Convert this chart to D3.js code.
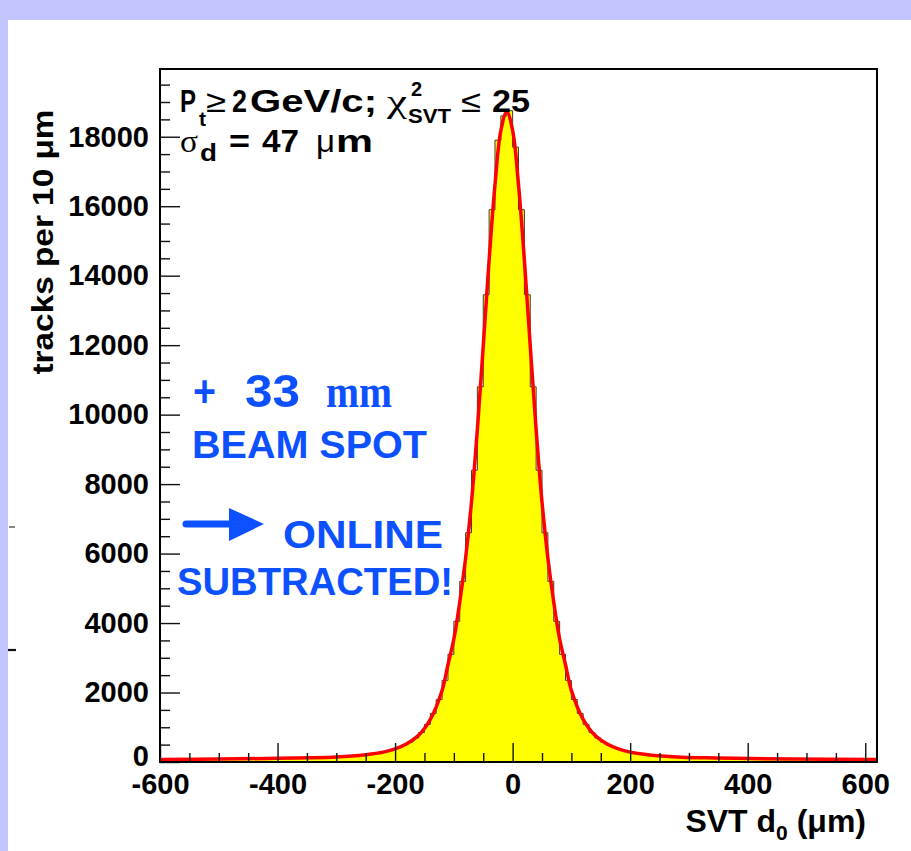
<!DOCTYPE html>
<html>
<head>
<meta charset="utf-8">
<script src="https://cdn.jsdelivr.net/npm/d3@7"></script>
<style>
  html, body { margin: 0; padding: 0; background: #ffffff; }
  svg { display: block; }
</style>
</head>
<body>
<svg id="chart" width="911" height="851"></svg>
<script>
// ---------- DATA ----------
// histogram: tracks per 10 um bin, bins start at -600 um
const binStart = -600;
const binWidth = 10;
const counts = [
  76, 77, 78, 79, 80, 81, 82, 83, 84, 86,
  87, 88, 90, 92, 94, 96, 98, 100, 102, 104,
  106, 109, 112, 115, 118, 122, 126, 130, 135, 143,
  152, 162, 175, 190, 205, 225, 245, 270, 305, 350,
  410, 480, 570, 690, 850, 1080, 1400, 1800, 2350, 3100,
  4050, 5200, 6600, 8400, 10800, 13450, 15900, 17900, 18600, 18750,
  17700, 15900, 13450, 10800, 8400, 6600, 5200, 4050, 3100, 2350,
  1800, 1400, 1080, 850, 690, 570, 480, 410, 350, 305,
  270, 245, 225, 205, 190, 175, 162, 152, 143, 135,
  130, 126, 122, 118, 115, 112, 109, 106, 104, 102,
  100, 98, 96, 94, 92, 90, 88, 87, 86, 84,
  83, 82, 81, 80, 79, 78, 77, 76, 75, 74,
  73, 72
];
// fitted curve (red)
const fitX = [-600, -500, -400, -350, -300, -250, -220, -200, -180, -160, -140, -120, -110, -100, -90, -80, -70, -60, -50, -40, -30, -20, -10,
              0, 10, 20, 30, 40, 50, 60, 70, 80, 90, 100, 120, 140, 160, 180, 200, 230, 280, 330, 380, 480, 620];
const fitY = [74, 86, 105, 120, 145, 212, 285, 378, 525, 770, 1230, 2060, 2800, 3540, 4600, 5870, 7480, 9570, 11970, 14450, 16620, 18180, 18720,
              18180, 16620, 14450, 11970, 9570, 7480, 5870, 4600, 3540, 2800, 2060, 1230, 770, 525, 378, 285, 212, 145, 120, 105, 86, 72];
// axes
const xDomain = [-600, 620];
const yDomain = [0, 19950];
const xTickLabels = [-600, -400, -200, 0, 200, 400, 600];
const yTickLabels = [0, 2000, 4000, 6000, 8000, 10000, 12000, 14000, 16000, 18000];
const xMinorStep = 50;
const yMinorStep = 500;
// texts
const xTitle = ["SVT d", "0", " (\u03BCm)"];
const yTitle = "tracks per 10 \u03BCm";

// ---------- DRAW ----------
const svg = d3.select("#chart");
const W = 911, H = 851;
const frame = { left: 160, right: 877, top: 69, bottom: 762 };
const LAV = "#c4c4ff";
const BLUE = "#0c50ff";
const FONT = "'Liberation Sans', Arial, Helvetica, sans-serif";
const SERIF = "'Liberation Serif', 'DejaVu Serif', serif";

svg.append("rect").attr("width", W).attr("height", H).attr("fill", "#ffffff");
svg.append("rect").attr("x", 0).attr("y", 0).attr("width", W).attr("height", 20).attr("fill", LAV);
svg.append("rect").attr("x", 0).attr("y", 0).attr("width", 8).attr("height", H).attr("fill", LAV);
// small marks on the left band
svg.append("line").attr("x1", 9).attr("x2", 15).attr("y1", 527).attr("y2", 527).attr("stroke", "#333").attr("stroke-width", 1.2);
svg.append("line").attr("x1", 8).attr("x2", 16).attr("y1", 650).attr("y2", 650).attr("stroke", "#111").attr("stroke-width", 2.2);

const x = d3.scaleLinear().domain(xDomain).range([frame.left, frame.right]);
const y = d3.scaleLinear().domain(yDomain).range([frame.bottom, frame.top]);

svg.append("clipPath").attr("id", "clip").append("rect")
  .attr("x", frame.left).attr("y", frame.top)
  .attr("width", frame.right - frame.left).attr("height", frame.bottom - frame.top);

// histogram
const histPts = [[binStart, 0]];
counts.forEach((c, i) => {
  const x0 = binStart + i * binWidth;
  histPts.push([x0, c]);
  histPts.push([x0 + binWidth, c]);
});
histPts.push([binStart + counts.length * binWidth, 0]);
const histLine = d3.line().x(d => x(d[0])).y(d => y(d[1]));
svg.append("path")
  .attr("clip-path", "url(#clip)")
  .attr("d", histLine(histPts) + "Z")
  .attr("fill", "#ffff00")
  .attr("stroke", "#3a3a3a")
  .attr("stroke-width", 1);

// fit
const fitLine = d3.line().x(d => x(d[0])).y(d => y(d[1])).curve(d3.curveCatmullRom.alpha(0.5));
svg.append("path")
  .attr("clip-path", "url(#clip)")
  .attr("d", fitLine(fitX.map((v, i) => [v, fitY[i]])))
  .attr("fill", "none")
  .attr("stroke", "#ff0000")
  .attr("stroke-width", 3.5)
  .attr("stroke-linejoin", "round");

// axes
function styleAxis(g) {
  g.select(".domain").remove();
  g.selectAll(".tick line").attr("stroke", "#111").attr("stroke-width", 1.4);
  g.selectAll("text").attr("font-family", FONT).attr("font-weight", "bold").attr("font-size", 29).attr("fill", "#000");
}
const yMinor = d3.range(yDomain[0], yDomain[1], yMinorStep).filter(v => v % 2000 !== 0);
svg.append("g").attr("transform", `translate(${frame.left},0)`)
  .call(d3.axisLeft(y).tickValues(yMinor).tickSizeInner(-10).tickSizeOuter(0).tickFormat(""))
  .call(styleAxis);
svg.append("g").attr("transform", `translate(${frame.left},0)`)
  .call(d3.axisLeft(y).tickValues(yTickLabels).tickSizeInner(-20).tickSizeOuter(0).tickPadding(11).tickFormat(d => String(d)))
  .call(styleAxis)
  .call(g => g.selectAll(".tick").filter(d => d === 0).select("text").attr("y", -6));

const xMinor = d3.range(xDomain[0], xDomain[1] + 1, xMinorStep).filter(v => v % 200 !== 0);
svg.append("g").attr("transform", `translate(0,${frame.bottom})`)
  .call(d3.axisBottom(x).tickValues(xMinor).tickSizeInner(-9).tickSizeOuter(0).tickFormat(""))
  .call(styleAxis);
svg.append("g").attr("transform", `translate(0,${frame.bottom})`)
  .call(d3.axisBottom(x).tickValues(xTickLabels).tickSizeInner(-19).tickSizeOuter(0).tickPadding(11).tickFormat(d => String(d)))
  .call(styleAxis);

// frame
svg.append("rect")
  .attr("x", frame.left).attr("y", frame.top)
  .attr("width", frame.right - frame.left).attr("height", frame.bottom - frame.top)
  .attr("fill", "none").attr("stroke", "#000").attr("stroke-width", 2);

// axis titles
const xt = svg.append("text").attr("x", 866).attr("y", 832).attr("text-anchor", "end")
  .attr("font-family", FONT).attr("font-weight", "bold").attr("font-size", 32).attr("fill", "#000");
xt.append("tspan").text(xTitle[0]);
xt.append("tspan").attr("font-size", 21).attr("dy", 8).text(xTitle[1]);
xt.append("tspan").attr("dy", -8).text(xTitle[2]);

svg.append("text")
  .attr("transform", "translate(53,242) rotate(-90)")
  .attr("text-anchor", "middle")
  .attr("font-family", FONT).attr("font-weight", "bold").attr("font-size", 29)
  .attr("textLength", 265).attr("lengthAdjust", "spacingAndGlyphs")
  .text(yTitle);

// label texts
function txt(s, x0, yb, opts) {
  const o = Object.assign({ size: 31, weight: "bold", family: FONT, fill: "#000" }, opts || {});
  const t = svg.append("text").attr("x", x0).attr("y", yb)
    .attr("font-family", o.family).attr("font-weight", o.weight)
    .attr("font-size", o.size).attr("fill", o.fill).text(s);
  if (o.len) t.attr("textLength", o.len).attr("lengthAdjust", "spacingAndGlyphs");
  return t;
}
// line 1
txt("P", 180, 112, { len: 16 });
txt("t", 199, 126, { size: 20, len: 7 });
txt("\u2265", 206, 112, { weight: "normal", len: 20 });
txt("2", 232, 112, { len: 15 });
txt("GeV/c;", 250, 112, { len: 127 });
txt("\u03C7", 387, 112, { weight: "normal", family: SERIF, size: 32, len: 20 });
txt("2", 411, 96, { size: 20 });
txt("SVT", 408, 123, { size: 20, len: 43 });
txt("\u2264", 461, 112, { weight: "normal", len: 20 });
txt("25", 492, 112, { len: 38 });
// line 2
txt("\u03C3", 180, 152, { weight: "normal", family: SERIF, size: 32, len: 18 });
txt("d", 200, 161, { size: 23, len: 17 });
txt("=", 229, 152, { len: 21 });
txt("47", 262, 152, { len: 37 });
txt("\u03BC", 316, 152, { weight: "normal", size: 32, len: 19 });
txt("m", 336, 152, { len: 37 });

// blue annotation
txt("+", 193, 407, { size: 44, fill: BLUE, len: 23 });
txt("33", 245, 407, { size: 47, fill: BLUE, len: 55 });
txt("mm", 326, 407, { size: 47, fill: BLUE, family: SERIF, len: 66 });
txt("BEAM SPOT", 192, 458, { size: 39, fill: BLUE, len: 235 });
txt("ONLINE", 283, 548, { size: 39, fill: BLUE, len: 160 });
txt("SUBTRACTED!", 177, 595, { size: 39, fill: BLUE, len: 276 });
svg.append("line").attr("x1", 186).attr("x2", 234).attr("y1", 524).attr("y2", 524)
  .attr("stroke", BLUE).attr("stroke-width", 7).attr("stroke-linecap", "round");
svg.append("path").attr("d", "M229,508 L264,524 L229,541 Z").attr("fill", BLUE);
</script>
</body>
</html>
